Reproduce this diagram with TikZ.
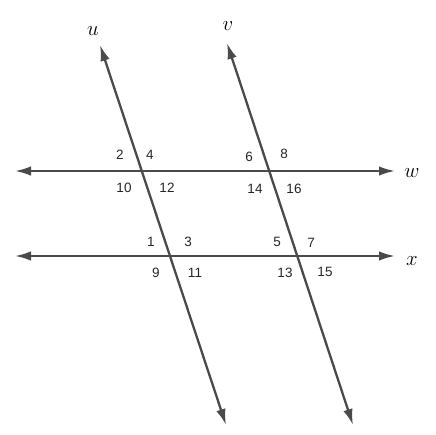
\documentclass[tikz,border=0pt]{standalone}
\usepackage{fontspec}
\setsansfont{Liberation Sans}
\usetikzlibrary{arrows.meta}
\definecolor{linegray}{HTML}{4A4A4A}
\begin{document}
\begin{tikzpicture}[x=1pt,y=-1pt,
  ln/.style={draw=linegray,line width=2.3pt,{Latex[length=16pt,width=9.5pt]}-{Latex[length=16pt,width=9.5pt]}},
  num/.style={font=\sffamily\fontsize{13.5}{13.5}\selectfont,text=black!85,inner sep=0pt},
  lbl/.style={font=\fontsize{21}{21}\selectfont,inner sep=0pt}]
\useasboundingbox (0,0) rectangle (435,435);
\coordinate (wL) at (15,171);
\coordinate (wR) at (395,171);
\coordinate (xL) at (15,256);
\coordinate (xR) at (395,256);
\coordinate (uT) at (100,45);
\coordinate (uB) at (226,425);
\coordinate (vT) at (227,43);
\coordinate (vB) at (353,425);
\draw[ln] (wL) -- (wR);
\draw[ln] (xL) -- (xR);
\draw[ln] (uT) -- (uB);
\draw[ln] (vT) -- (vB);
\node[lbl] (lu) at (93,31) {$u$};
\node[lbl] (lv) at (228,26) {$v$};
\node[lbl] (lw) at (412,173) {$w$};
\node[lbl] (lx) at (412,261) {$x$};
\node[num] (n2) at (120,155) {2};
\node[num] (n4) at (150,155) {4};
\node[num] (n10) at (124,188) {10};
\node[num] (n12) at (167,188) {12};
\node[num] (n1) at (151,242) {1};
\node[num] (n3) at (188,242) {3};
\node[num] (n9) at (156,273) {9};
\node[num] (n11) at (195,273) {11};
\node[num] (n6) at (249,157) {6};
\node[num] (n8) at (284,154) {8};
\node[num] (n14) at (255,189) {14};
\node[num] (n16) at (294,189) {16};
\node[num] (n5) at (277,242) {5};
\node[num] (n7) at (311,243) {7};
\node[num] (n13) at (285,273) {13};
\node[num] (n15) at (325,272) {15};
\end{tikzpicture}
\end{document}
